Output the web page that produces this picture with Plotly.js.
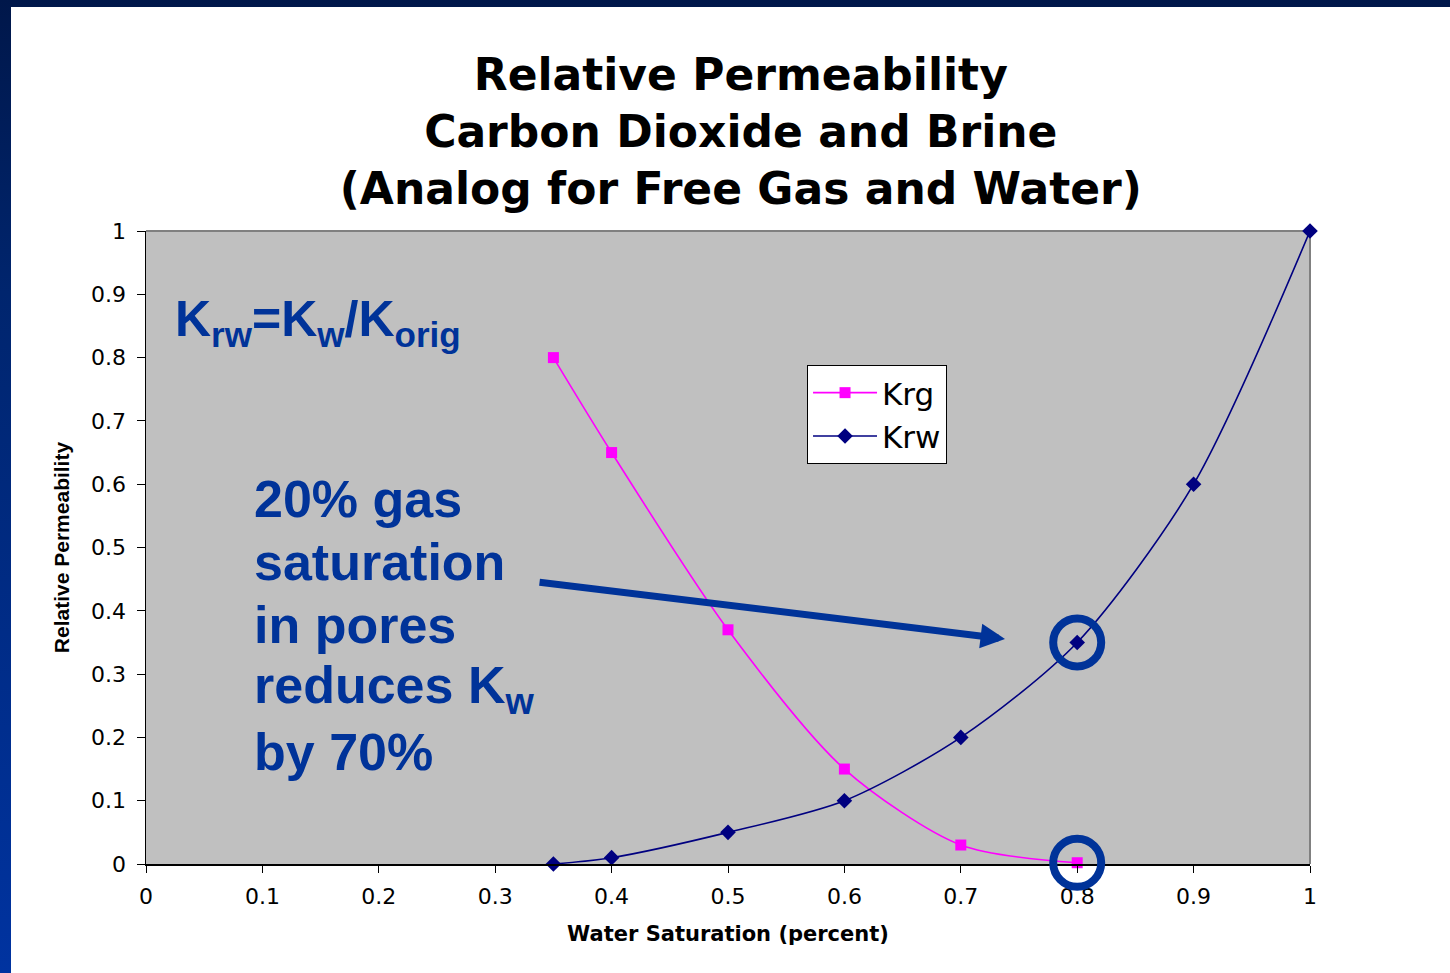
<!DOCTYPE html>
<html>
<head>
<meta charset="utf-8">
<script src="https://cdn.plot.ly/plotly-3.0.1.min.js"></script>
<style>
  html, body { margin: 0; padding: 0; width: 1450px; height: 973px; overflow: hidden;
    background: linear-gradient(to bottom, #00174a 0%, #00256e 30%, #0033a0 100%); }
  #chart { position: absolute; left: 11px; top: 7px; width: 1439px; height: 966px; background: #ffffff; }
</style>
</head>
<body>
<div id="chart"></div>
<script>
// Data
const waterSatKrg = [0.35, 0.4, 0.5, 0.6, 0.7, 0.8];
const krgValues   = [0.80, 0.65, 0.37, 0.15, 0.03, 0.002];
const waterSatKrw = [0.35, 0.4, 0.5, 0.6, 0.7, 0.8, 0.9, 1.0];
const krwValues   = [0.0, 0.01, 0.05, 0.10, 0.20, 0.35, 0.60, 1.0];
const tickValues  = [0, 0.1, 0.2, 0.3, 0.4, 0.5, 0.6, 0.7, 0.8, 0.9, 1];
const seriesNames = ['Krg', 'Krw'];
const titleLines  = ['Relative Permeability', 'Carbon Dioxide and Brine', '(Analog for Free Gas and Water)'];
const noteLines   = ['20% gas', 'saturation', 'in pores', 'reduces K<sub>w</sub>', 'by 70%'];
const highlightIdx = 5; // Sw = 0.8 point on both curves

const blue = '#003399';
const noteFont = {family: 'Liberation Sans, Arial, sans-serif', size: 52, color: blue, weight: 'bold'};

const traces = [
  {
    x: waterSatKrg, y: krgValues, name: seriesNames[0], type: 'scatter', mode: 'lines+markers',
    line: {color: '#ff00ff', width: 1.6, shape: 'spline', smoothing: 0.8},
    marker: {symbol: 'square', size: 11, color: '#ff00ff'},
    cliponaxis: false
  },
  {
    x: waterSatKrw, y: krwValues, name: seriesNames[1], type: 'scatter', mode: 'lines+markers',
    line: {color: '#000080', width: 1.6, shape: 'spline', smoothing: 0.8},
    marker: {symbol: 'diamond', size: 12, color: '#000080'},
    cliponaxis: false
  }
];

const noteCenters = [0.5766, 0.4771, 0.3776, 0.2765, 0.1769];
const annotations = noteLines.map((t, i) => ({
  text: t, xref: 'x', yref: 'y', x: 0.091, y: noteCenters[i],
  xanchor: 'left', yanchor: 'middle', showarrow: false, font: noteFont
}));
annotations.push({
  text: 'K<sub>rw</sub>=K<sub>w</sub>/K<sub>orig</sub>', xref: 'x', yref: 'y', x: 0.0232, y: 0.856,
  xanchor: 'left', yanchor: 'middle', showarrow: false,
  font: {family: 'Liberation Sans, Arial, sans-serif', size: 50, color: blue, weight: 'bold'}
});
annotations.push({
  text: '', xref: 'x', yref: 'y', x: 0.738, y: 0.3555, ax: -467, ay: -57,
  showarrow: true, arrowhead: 2, arrowsize: 0.7, arrowwidth: 7, arrowcolor: blue
});

// x and y ranges are both [0, 1], so paper fractions equal data values; paper refs avoid clipping
function ring(xv, yv) {
  return {
    type: 'circle', xref: 'paper', yref: 'paper', xsizemode: 'pixel', ysizemode: 'pixel',
    xanchor: xv, yanchor: yv, x0: -24, x1: 24, y0: -24, y1: 24,
    line: {color: blue, width: 8}, layer: 'above'
  };
}

const layout = {
  width: 1439, height: 966,
  margin: {l: 135, r: 140, t: 224, b: 109},
  paper_bgcolor: '#ffffff',
  plot_bgcolor: '#c0c0c0',
  title: {
    text: titleLines.join('<br>'),
    font: {family: 'DejaVu Sans, sans-serif', size: 44, color: '#000000', weight: 'bold'},
    xref: 'paper', x: 0.511, xanchor: 'center',
    yref: 'container', y: 0.914, yanchor: 'top'
  },
  showlegend: true,
  legend: {
    x: 0.5679, y: 0.7883, xanchor: 'left', yanchor: 'top',
    bgcolor: '#ffffff', bordercolor: '#000000', borderwidth: 1,
    font: {family: 'DejaVu Sans, sans-serif', size: 31, color: '#000000'},
    itemwidth: 64, tracegroupgap: 0
  },
  xaxis: {
    range: [0, 1], tickvals: tickValues, ticktext: tickValues.map(String),
    showgrid: false, zeroline: false, showline: true, linecolor: '#000000', linewidth: 1.5,
    ticks: 'outside', ticklen: 7, tickcolor: '#000000', tickwidth: 1, ticklabelstandoff: 5,
    tickfont: {family: 'DejaVu Sans, sans-serif', size: 22, color: '#000000'},
    title: {text: 'Water Saturation (percent)', standoff: 18,
      font: {family: 'DejaVu Sans, sans-serif', size: 21, color: '#000000', weight: 'bold'}},
    fixedrange: true
  },
  yaxis: {
    range: [0, 1], tickvals: tickValues, ticktext: tickValues.map(String),
    showgrid: false, zeroline: false, showline: true, linecolor: '#000000', linewidth: 1.5,
    ticks: 'outside', ticklen: 8, tickcolor: '#000000', tickwidth: 1, ticklabelstandoff: 6,
    tickfont: {family: 'DejaVu Sans, sans-serif', size: 22, color: '#000000'},
    title: {text: 'Relative Permeability', standoff: 15,
      font: {family: 'Liberation Sans, Arial, sans-serif', size: 21, color: '#000000', weight: 'bold'}},
    fixedrange: true
  },
  shapes: [
    {type: 'line', xref: 'paper', yref: 'paper', x0: 0, x1: 1, y0: 1, y1: 1,
      line: {color: '#808080', width: 2}, layer: 'below'},
    {type: 'line', xref: 'paper', yref: 'paper', x0: 1, x1: 1, y0: 0, y1: 1,
      line: {color: '#808080', width: 2}, layer: 'below'},
    ring(waterSatKrw[highlightIdx], krwValues[highlightIdx]),
    ring(waterSatKrg[highlightIdx], krgValues[highlightIdx])
  ],
  annotations: annotations
};

Plotly.newPlot('chart', traces, layout, {displayModeBar: false, staticPlot: true});
</script>
</body>
</html>
